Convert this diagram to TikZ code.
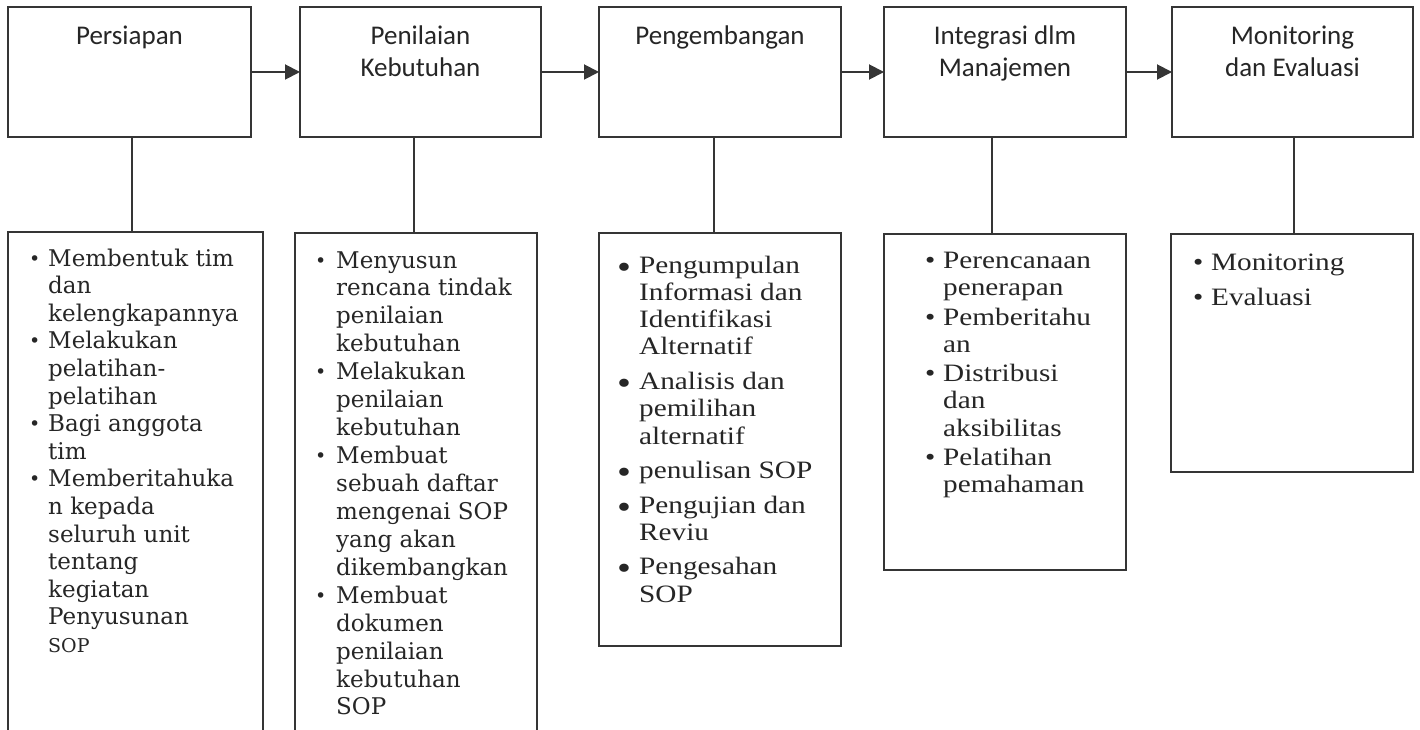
\documentclass[tikz,border=0pt]{standalone}
\usepackage{fontspec}
\setmainfont{DejaVu Serif}
\newfontfamily\condserif[FakeStretch=1.17]{Liberation Serif}
\newfontfamily\labelfont{Carlito}
\usetikzlibrary{arrows.meta}
\definecolor{linec}{HTML}{353535}
\definecolor{textc}{HTML}{262626}
\newcommand{\bul}[1]{\makebox[#1][l]{\textbullet}}
\newcommand{\bbul}[1]{\makebox[#1][l]{\raisebox{-5pt}{\fontsize{34}{34}\selectfont\textbullet}}}
\newcommand{\sbul}[1]{\makebox[#1][l]{\raisebox{1pt}{\fontsize{19}{19}\selectfont\textbullet}}}
\tikzset{
  box/.style={draw=linec, line width=1.6pt, rectangle, inner sep=0pt, outer sep=0pt, anchor=north west},
  openbox/.style={draw=none, rectangle, inner sep=0pt, outer sep=0pt, anchor=north west},
  arr/.style={draw=linec, line width=1.9pt, -{Triangle[length=15pt,width=15pt]}},
  conn/.style={draw=linec, line width=1.4pt},
  toplabel/.style={anchor=base, inner sep=0pt, text=textc, font=\labelfont\fontsize{27}{32}\selectfont},
  ta/.style={anchor=base west, inner sep=0pt, text=textc, font=\fontsize{23}{27.6}\selectfont},
  tc/.style={anchor=base west, inner sep=0pt, text=textc, font=\condserif\fontsize{25}{27}\selectfont},
}
\begin{document}
\begin{tikzpicture}[x=1pt,y=-1pt]
\useasboundingbox (0,0) rectangle (1420,730);
\fill[white] (0,0) rectangle (1420,730);

% top boxes
\node[box, minimum width=243pt, minimum height=130pt] (t1) at (8,7) {};
\node[box, minimum width=241pt, minimum height=130pt] (t2) at (300,7) {};
\node[box, minimum width=242pt, minimum height=130pt] (t3) at (599,7) {};
\node[box, minimum width=242pt, minimum height=130pt] (t4) at (884,7) {};
\node[box, minimum width=241pt, minimum height=130pt] (t5) at (1172,7) {};

% top labels
\node[toplabel] (l1) at (129.5,45) {Persiapan};
\node[toplabel] (l2a) at (420.5,45) {Penilaian};
\node[toplabel] (l2b) at (420.5,77) {Kebutuhan};
\node[toplabel] (l3) at (720,45) {Pengembangan};
\node[toplabel] (l4a) at (1005,45) {Integrasi dlm};
\node[toplabel] (l4b) at (1005,77) {Manajemen};
\node[toplabel] (l5a) at (1292.5,45) {Monitoring};
\node[toplabel] (l5b) at (1292.5,77) {dan Evaluasi};

% arrows
\draw[arr] (t1.east) -- (t2.west);
\draw[arr] (t2.east) -- (t3.west);
\draw[arr] (t3.east) -- (t4.west);
\draw[arr] (t4.east) -- (t5.west);

% bottom boxes
\node[openbox, minimum width=255pt, minimum height=498pt] (b1) at (8,232) {};
\draw[box] (b1.south west) |- (b1.north east) -- (b1.south east);
\node[openbox, minimum width=242pt, minimum height=497pt] (b2) at (295,233) {};
\draw[box] (b2.south west) |- (b2.north east) -- (b2.south east);
\node[box, minimum width=242pt, minimum height=413pt] (b3) at (599,233) {};
\node[box, minimum width=242pt, minimum height=336pt] (b4) at (884,234) {};
\node[box, minimum width=242pt, minimum height=238pt] (b5) at (1171,234) {};

% vertical connectors
\coordinate (c1) at (132,0);
\coordinate (c2) at (414,0);
\coordinate (c3) at (714,0);
\coordinate (c4) at (992,0);
\coordinate (c5) at (1294,0);
\draw[conn] (t1.south -| c1) -- (b1.north -| c1);
\draw[conn] (t2.south -| c2) -- (b2.north -| c2);
\draw[conn] (t3.south -| c3) -- (b3.north -| c3);
\draw[conn] (t4.south -| c4) -- (b4.north -| c4);
\draw[conn] (t5.south -| c5) -- (b5.north -| c5);

% box 1 text
\node[ta] (a1) at (29,266) {\sbul{19pt}Membentuk tim};
\node[ta] (a2) at (48,293.6) {dan};
\node[ta] (a3) at (48,321.2) {kelengkapannya};
\node[ta] (a4) at (29,348.8) {\sbul{19pt}Melakukan};
\node[ta] (a5) at (48,376.4) {pelatihan-};
\node[ta] (a6) at (48,404) {pelatihan};
\node[ta] (a7) at (29,431.6) {\sbul{19pt}Bagi anggota};
\node[ta] (a8) at (48,459.2) {tim};
\node[ta] (a9) at (29,486.8) {\sbul{19pt}Memberitahuka};
\node[ta] (a10) at (48,514.4) {n kepada};
\node[ta] (a11) at (48,542) {seluruh unit};
\node[ta] (a12) at (48,569.6) {tentang};
\node[ta] (a13) at (48,597.2) {kegiatan};
\node[ta] (a14) at (48,624.8) {Penyusunan};
\node[ta, font=\fontsize{19}{22}\selectfont] (a15) at (48,652.4) {SOP};

% box 2 text
\node[ta] (e1) at (315,268) {\sbul{21pt}Menyusun};
\node[ta] (e2) at (336,295.9) {rencana tindak};
\node[ta] (e3) at (336,323.9) {penilaian};
\node[ta] (e4) at (336,351.8) {kebutuhan};
\node[ta] (e5) at (315,379.7) {\sbul{21pt}Melakukan};
\node[ta] (e6) at (336,407.7) {penilaian};
\node[ta] (e7) at (336,435.6) {kebutuhan};
\node[ta] (e8) at (315,463.5) {\sbul{21pt}Membuat};
\node[ta] (e9) at (336,491.4) {sebuah daftar};
\node[ta] (e10) at (336,519.4) {mengenai SOP};
\node[ta] (e11) at (336,547.3) {yang akan};
\node[ta] (e12) at (336,575.2) {dikembangkan};
\node[ta] (e13) at (315,603.2) {\sbul{21pt}Membuat};
\node[ta] (e14) at (336,631.1) {dokumen};
\node[ta] (e15) at (336,659) {penilaian};
\node[ta] (e16) at (336,687) {kebutuhan};
\node[ta] (e17) at (336,714.9) {SOP};

% box 3 text
\node[tc] (g1) at (617,273) {\bbul{22pt}Pengumpulan};
\node[tc] (g2) at (639,300.3) {Informasi dan};
\node[tc] (g3) at (639,327.6) {Identifikasi};
\node[tc] (g4) at (639,354.9) {Alternatif};
\node[tc] (g5) at (617,389.4) {\bbul{22pt}Analisis dan};
\node[tc] (g6) at (639,416.7) {pemilihan};
\node[tc] (g7) at (639,444) {alternatif};
\node[tc] (g8) at (617,478.5) {\bbul{22pt}penulisan SOP};
\node[tc] (g9) at (617,513) {\bbul{22pt}Pengujian dan};
\node[tc] (g10) at (639,540.3) {Reviu};
\node[tc] (g11) at (617,574.8) {\bbul{22pt}Pengesahan};
\node[tc] (g12) at (639,602.1) {SOP};

% box 4 text
\node[tc] (h1) at (925,268) {\bul{18pt}Perencanaan};
\node[tc] (h2) at (943,295.5) {penerapan};
\node[tc] (h3) at (925,325) {\bul{18pt}Pemberitahu};
\node[tc] (h4) at (943,352.5) {an};
\node[tc] (h5) at (925,381.5) {\bul{18pt}Distribusi};
\node[tc] (h6) at (943,408.5) {dan};
\node[tc] (h7) at (943,436) {aksibilitas};
\node[tc] (h8) at (925,465) {\bul{18pt}Pelatihan};
\node[tc] (h9) at (943,492.5) {pemahaman};

% box 5 text
\node[tc] (m1) at (1193,270) {\bul{18pt}Monitoring};
\node[tc] (m2) at (1193,305) {\bul{18pt}Evaluasi};
\end{tikzpicture}
\end{document}
